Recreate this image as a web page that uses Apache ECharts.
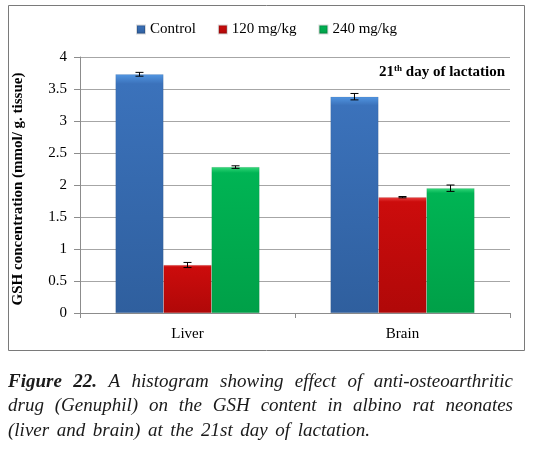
<!DOCTYPE html>
<html><head><meta charset="utf-8">
<script src="https://cdn.jsdelivr.net/npm/echarts@6/dist/echarts.min.js"></script>
<style>html,body{margin:0;padding:0;background:#fff}#c{width:533px;height:471px}</style>
</head><body><div id="c"></div>
<script>
var categories = ['Liver', 'Brain'];
var seriesNames = ['Control', '120 mg/kg', '240 mg/kg'];
var controlValues = [3.73, 3.38];
var dose120Values = [0.75, 1.81];
var dose240Values = [2.28, 1.95];
var controlErrors = [0.03, 0.05];
var dose120Errors = [0.04, 0.01];
var dose240Errors = [0.02, 0.05];
var yTicks = [0, 0.5, 1, 1.5, 2, 2.5, 3, 3.5, 4];
var annotation = ['21', 'th', ' day of lactation'];
var captionWords = [
  [['Figure', 1], ['22.', 1], ['A', 0], ['histogram', 0], ['showing', 0], ['effect', 0], ['of', 0], ['anti-osteoarthritic', 0]],
  [['drug', 0], ['(Genuphil)', 0], ['on', 0], ['the', 0], ['GSH', 0], ['content', 0], ['in', 0], ['albino', 0], ['rat', 0], ['neonates', 0]],
  [['(liver', 0], ['and', 0], ['brain)', 0], ['at', 0], ['the', 0], ['21st', 0], ['day', 0], ['of', 0], ['lactation.', 0]]
];

var FONT = "'Liberation Serif', 'Times New Roman', serif";
var chart = echarts.init(document.getElementById('c'), null, {renderer: 'canvas'});

var values = [controlValues, dose120Values, dose240Values];
var errors = [controlErrors, dose120Errors, dose240Errors];
var colors = [
  ['#5296e2', '#3b72bb', '#2f5f9e'],
  ['#ea4040', '#cc0c0c', '#b00808'],
  ['#34d87a', '#00b454', '#00a048']
];
var legendColors = ['#3a6fb8', '#cc0c0c', '#00b454'];

function grad(c) {
  return new echarts.graphic.LinearGradient(0, 0, 0, 1, [
    {offset: 0, color: c[0]}, {offset: 0.04, color: c[1]}, {offset: 1, color: c[2]}
  ]);
}

var series = [];
seriesNames.forEach(function (name, i) {
  series.push({
    name: name, type: 'bar', data: values[i],
    barGap: '0%', barCategoryGap: '33%',
    itemStyle: {color: grad(colors[i]), borderColor: 'rgba(0,0,0,0.15)', borderWidth: 0.5},
    z: 2
  });
});
// error bars
var errData = [];
for (var s = 0; s < 3; s++) {
  for (var k = 0; k < categories.length; k++) {
    errData.push([k, values[s][k] - errors[s][k], values[s][k] + errors[s][k], s]);
  }
}
series.push({
  type: 'custom', name: 'err', z: 5, silent: true,
  data: errData,
  encode: {x: 0, y: [1, 2]},
  renderItem: function (params, api) {
    var k = api.value(0), lo = api.value(1), hi = api.value(2), s = api.value(3);
    var band = api.size([1, 0])[0];
    var barW = band * 0.67 / 3;
    var cx = api.coord([k, 0])[0] - 1.5 * barW + barW * (s + 0.5);
    var pLo = api.coord([k, lo])[1], pHi = api.coord([k, hi])[1];
    var st = {stroke: '#000', lineWidth: 1};
    return {type: 'group', children: [
      {type: 'line', shape: {x1: cx, y1: pLo, x2: cx, y2: pHi}, style: st},
      {type: 'line', shape: {x1: cx - 4, y1: pLo, x2: cx + 4, y2: pLo}, style: st},
      {type: 'line', shape: {x1: cx - 4, y1: pHi, x2: cx + 4, y2: pHi}, style: st}
    ]};
  }
});

// caption justified
var ctx = document.createElement('canvas').getContext('2d');
var capGraphics = [];
var capLeft = 8, capRight = 513, capLastEnd = 370, capFs = 19;
var capY = [382, 406, 431];
captionWords.forEach(function (line, li) {
  var widths = line.map(function (w) {
    ctx.font = 'italic ' + (w[1] ? 'bold ' : '') + capFs + 'px ' + FONT;
    return ctx.measureText(w[0]).width;
  });
  var total = widths.reduce(function (a, b) { return a + b; }, 0);
  var end = li < captionWords.length - 1 ? capRight : capLastEnd;
  var gap = (end - capLeft - total) / (line.length - 1);
  var x = capLeft;
  line.forEach(function (w, wi) {
    capGraphics.push({
      type: 'text', x: x, y: capY[li],
      style: {text: w[0], font: 'italic ' + (w[1] ? 'bold ' : '') + capFs + 'px ' + FONT, fill: '#1a1a1a', verticalAlign: 'middle', align: 'left'}
    });
    x += widths[wi] + gap;
  });
});

var option = {
  animation: false,
  backgroundColor: '#fff',
  textStyle: {fontFamily: FONT},
  legend: {
    data: seriesNames, top: 17, left: 'center',
    itemWidth: 8, itemHeight: 8, itemGap: 22,
    icon: 'rect',
    textStyle: {fontFamily: FONT, fontSize: 15, color: '#000'}
  },
  color: legendColors,
  grid: {left: 80, right: 23, top: 57, bottom: 158},
  xAxis: {
    type: 'category', data: categories,
    axisLine: {lineStyle: {color: '#8c8c8c'}},
    axisTick: {show: true, length: 5, lineStyle: {color: '#8c8c8c'}},
    axisLabel: {fontFamily: FONT, fontSize: 15, color: '#000', margin: 14}
  },
  yAxis: {
    type: 'value', min: 0, max: 4, interval: 0.5,
    name: 'GSH concentration (mmol/ g. tissue)',
    nameLocation: 'middle', nameGap: 54, nameRotate: 90,
    nameTextStyle: {fontFamily: FONT, fontSize: 15, fontWeight: 'bold', color: '#000', padding: [0, 8, 0, 0]},
    axisLine: {show: true, lineStyle: {color: '#8c8c8c'}},
    axisTick: {show: true, length: 6, inside: false, lineStyle: {color: '#8c8c8c'}},
    axisLabel: {fontFamily: FONT, fontSize: 15, color: '#000', margin: 13,
      formatter: function (v) { return yTicks.indexOf(v) >= 0 ? String(v) : ''; }},
    splitLine: {lineStyle: {color: '#a6a6a6'}}
  },
  series: series,
  graphic: [
    {type: 'rect', shape: {x: 8.5, y: 5.5, width: 516, height: 345}, style: {fill: 'none', stroke: '#7a7a7a', lineWidth: 1}, z: -1, silent: true},
    {type: 'text', right: 28, top: 64, z: 10,
      style: {
        rich: {
          a: {font: 'bold 15px ' + FONT, fill: '#000'},
          s: {font: 'bold 9px ' + FONT, fill: '#000', padding: [0, 0, 8, 0]}
        },
        text: '{a|' + annotation[0] + '}{s|' + annotation[1] + '}{a|' + annotation[2] + '}'
      }}
  ].concat(capGraphics)
};
chart.setOption(option);
</script></body></html>
